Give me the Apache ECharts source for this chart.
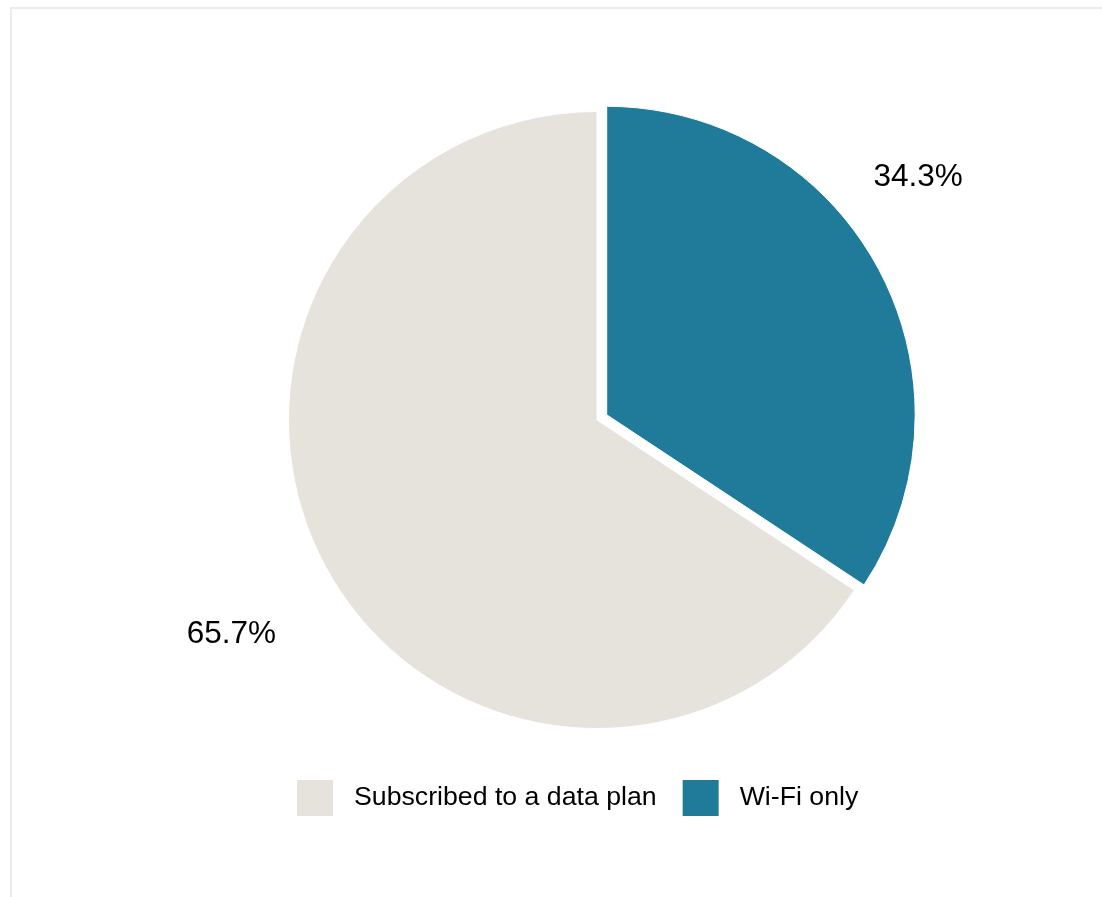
<!DOCTYPE html>
<html>
<head>
<meta charset="utf-8">
<title>Data plan vs Wi-Fi only</title>
<script src="https://cdn.jsdelivr.net/npm/echarts@6/dist/echarts.min.js"></script>
<style>
  html, body { margin: 0; padding: 0; background: #ffffff; }
  #chart { width: 1102px; height: 897px; }
</style>
</head>
<body>
<div id="chart"></div>
<script>
// Share of devices by connectivity type (percent)
const categories = ['Subscribed to a data plan', 'Wi-Fi only'];
const shares = [65.7, 34.3];
const sliceColors = ['#e6e3dc', '#1f7b99'];

const FONT = '"Liberation Sans", Arial, Helvetica, sans-serif';

// Wi-Fi slice is drawn first so it starts at 12 o'clock and runs clockwise;
// it is pulled out of the pie, so its label is placed via its (hidden) label line.
const pieData = categories.map((name, i) => {
  const item = {
    name: name,
    value: shares[i],
    itemStyle: { color: sliceColors[i] }
  };
  if (name === 'Wi-Fi only') {
    item.selected = true;
    item.labelLine = { show: false, length: 193, length2: -180 };
  }
  return item;
}).reverse();

const chart = echarts.init(document.getElementById('chart'), null, { renderer: 'canvas' });

chart.setOption({
  backgroundColor: '#ffffff',
  animation: false,
  graphic: [{
    type: 'rect',
    shape: { x: 11, y: 8, width: 1300, height: 1100 },
    style: { fill: 'none', stroke: '#ececec', lineWidth: 2 },
    silent: true,
    z: -1
  }],
  legend: {
    data: categories,
    left: 295,
    top: 778,
    padding: 0,
    orient: 'horizontal',
    itemWidth: 38,
    itemHeight: 38,
    itemGap: 24,
    icon: 'rect',
    selectedMode: false,
    textStyle: {
      fontFamily: FONT,
      fontSize: 26.7,
      color: '#000000',
      padding: [0, 0, 0, 15]
    }
  },
  series: [{
    type: 'pie',
    center: [597, 420],
    radius: [0, 308.5],
    startAngle: 90,
    clockwise: true,
    selectedMode: 'single',
    selectedOffset: 11,
    avoidLabelOverlap: false,
    itemStyle: { borderColor: '#ffffff', borderWidth: 1 },
    emphasis: { disabled: true },
    label: {
      show: true,
      position: 'outside',
      formatter: p => p.value.toFixed(1) + '%',
      fontFamily: FONT,
      fontSize: 31.5,
      color: '#000000'
    },
    labelLine: { show: false },
    labelLayout: function (params) {
      // label of the larger slice sits out to the lower left of the rim
      if (params.dataIndex === 1) {
        return { x: 276, y: 634, align: 'right', verticalAlign: 'middle' };
      }
      return {};
    },
    data: pieData
  }]
});
</script>
</body>
</html>
